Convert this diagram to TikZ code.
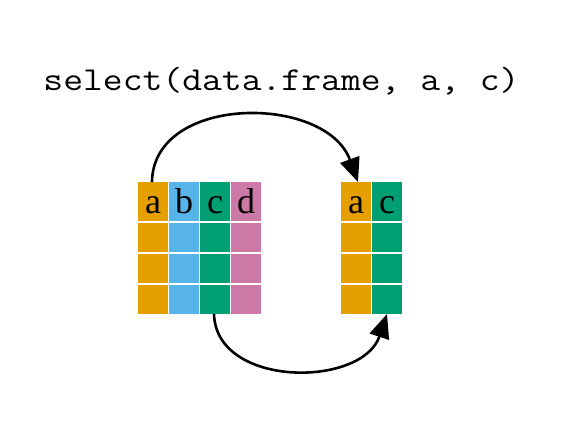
\documentclass[tikz,border=0pt]{standalone}
\usepackage{fontspec}
\setmainfont{Liberation Serif}
\setmonofont[FakeStretch=1.15]{Latin Modern Mono}
\usetikzlibrary{arrows.meta}
\definecolor{cOrange}{HTML}{E69F00}
\definecolor{cBlue}{HTML}{56B4E9}
\definecolor{cGreen}{HTML}{009E73}
\definecolor{cPink}{HTML}{CC79A7}
\begin{document}
\begin{tikzpicture}[x=1pt,y=-1pt,
  cell/.style={anchor=north west,inner sep=0pt,outer sep=0pt,minimum width=30pt,minimum height=29pt,draw=none},
  headcell/.style={cell,minimum height=39pt,font=\fontsize{36}{36}\selectfont,text height=25pt,text depth=1pt},
  flow/.style={line width=2.6pt,-{Triangle[length=24pt,width=20pt]}}]
\useasboundingbox (0,0) rectangle (566,426);
\node[anchor=base,font=\ttfamily\fontsize{33.5}{33.5}\selectfont] (code) at (281.5,90) {select(data.frame, a, c)};
% left grid
\node[headcell,fill=cOrange] (la0) at (138,182) {a};
\node[headcell,fill=cBlue] (lb0) at (169,182) {b};
\node[headcell,fill=cGreen] (lc0) at (200,182) {c};
\node[headcell,fill=cPink] (ld0) at (231,182) {d};
\foreach \r/\y in {1/223,2/254,3/285}{
  \node[cell,fill=cOrange] (la\r) at (138,\y) {};
  \node[cell,fill=cBlue] (lb\r) at (169,\y) {};
  \node[cell,fill=cGreen] (lc\r) at (200,\y) {};
  \node[cell,fill=cPink] (ld\r) at (231,\y) {};
}
% right grid
\node[headcell,fill=cOrange] (ra0) at (341,182) {a};
\node[headcell,fill=cGreen] (rc0) at (372,182) {c};
\foreach \r/\y in {1/223,2/254,3/285}{
  \node[cell,fill=cOrange] (ra\r) at (341,\y) {};
  \node[cell,fill=cGreen] (rc\r) at (372,\y) {};
}
% arrows
\coordinate (t0) at ([xshift=-1pt]la0.north);
\coordinate (t1) at ([xshift=2pt]ra0.north);
\draw[flow] (t0) .. controls (153,94) and (326,94) .. (t1);
\coordinate (b0) at ([xshift=-1pt]lc3.south);
\coordinate (b1) at ([xshift=0pt]rc3.south);
\draw[flow] (b0) .. controls (216,388) and (362,388) .. (b1);
\end{tikzpicture}
\end{document}
